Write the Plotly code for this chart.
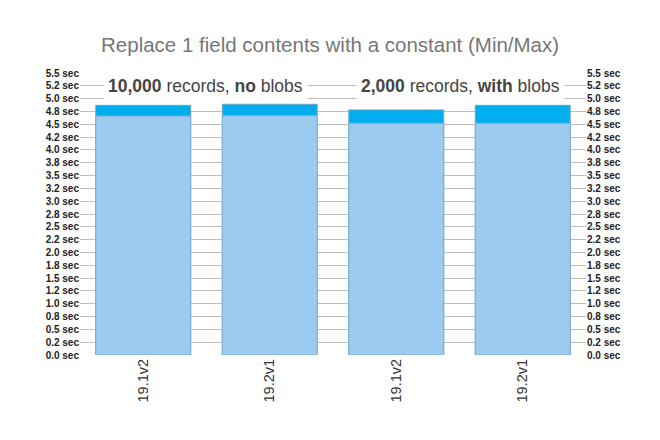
import plotly.graph_objects as go

categories = ["19.1v2", "19.2v1", "19.1v2", "19.2v1"]
min_sec = [4.66, 4.67, 4.52, 4.52]
max_sec = [4.87, 4.89, 4.78, 4.87]
tick_vals = [i * 0.25 for i in range(23)]
tick_text = ["0.0 sec", "0.2 sec", "0.5 sec", "0.8 sec", "1.0 sec", "1.2 sec", "1.5 sec",
             "1.8 sec", "2.0 sec", "2.2 sec", "2.5 sec", "2.8 sec", "3.0 sec", "3.2 sec",
             "3.5 sec", "3.8 sec", "4.0 sec", "4.2 sec", "4.5 sec", "4.8 sec", "5.0 sec",
             "5.2 sec", "5.5 sec"]
group_labels = ["<b>10,000</b> records, <b>no</b> blobs", "<b>2,000</b> records, <b>with</b> blobs"]

x = list(range(len(categories)))
FONT = "Liberation Sans, Arial, sans-serif"

fig = go.Figure()
fig.add_trace(go.Bar(x=x, y=max_sec, name="Max", marker=dict(color="#00AEEF", line=dict(color="#6FA3C8", width=1))))
fig.add_trace(go.Bar(x=x, y=min_sec, name="Min", marker=dict(color="#9DCBEF", line=dict(color="#7FAED3", width=1))))
# invisible trace for right axis
fig.add_trace(go.Scatter(x=[x[0]], y=[0], yaxis="y2", mode="markers", marker=dict(opacity=0), showlegend=False, hoverinfo="skip"))

fig.update_layout(
    width=660, height=440,
    barmode="overlay", bargap=0.25,
    showlegend=False,
    plot_bgcolor="white", paper_bgcolor="white",
    margin=dict(l=72, r=82, t=65, b=93, autoexpand=False),
    title=dict(text="Replace 1 field contents with a constant (Min/Max)", x=0.488, xanchor="center",
               y=0.916, yanchor="middle", font=dict(family=FONT, size=20.5, color="#767676")),
    xaxis=dict(tickvals=x, ticktext=categories, range=[-0.5, 3.5], tickangle=-90, automargin=False,
               showgrid=False, zeroline=False, showline=False, ticks="",
               tickfont=dict(family=FONT, size=14.5, color="#333333")),
    yaxis=dict(range=[0, 5.5], tickvals=tick_vals, ticktext=tick_text, showgrid=True, automargin=False,
               gridcolor="#BEBEBE", gridwidth=1, zeroline=False, showline=False, ticks="",
               tickfont=dict(family="Liberation Sans, Arial, sans-serif", size=10, color="#222222", weight="bold")),
    yaxis2=dict(range=[0, 5.5], tickvals=tick_vals, ticktext=tick_text, overlaying="y", side="right",
                showgrid=False, zeroline=False, showline=False, ticks="", automargin=False,
                tickfont=dict(family="Liberation Sans, Arial, sans-serif", size=10, color="#222222", weight="bold")),
)

for i, lbl in enumerate(group_labels):
    fig.add_annotation(text=lbl, xref="paper", yref="y", x=0.249 + i * 0.503, y=5.25,
                       xanchor="center", yanchor="middle",
                       showarrow=False, bgcolor="white", borderpad=4,
                       font=dict(family=FONT, size=17.5, color="#444444"))

fig.write_html("out.html")
